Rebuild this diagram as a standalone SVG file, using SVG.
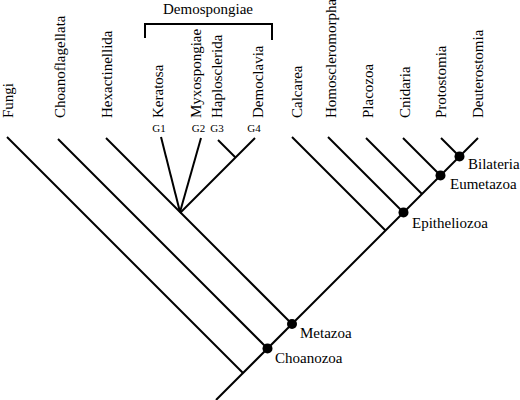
<svg xmlns="http://www.w3.org/2000/svg" width="520" height="400" viewBox="0 0 520 400">
<style>
.l{stroke:#000;stroke-width:2;fill:none}
.d{fill:#000}
</style>
<rect width="520" height="400" fill="#fff"/>
<g id="connectors">
<line class="l" x1="216" y1="400" x2="478" y2="138"/>
<line class="l" x1="7" y1="137" x2="243" y2="373"/>
<line class="l" x1="58" y1="139" x2="267.5" y2="348.5"/>
<line class="l" x1="106" y1="138" x2="292" y2="324"/>
<line class="l" x1="161" y1="137" x2="180" y2="212"/>
<line class="l" x1="201" y1="138" x2="180" y2="212"/>
<line class="l" x1="255" y1="138" x2="180" y2="213"/>
<line class="l" x1="218" y1="140" x2="235.5" y2="157.5"/>
<line class="l" x1="292" y1="137" x2="385.5" y2="230.5"/>
<line class="l" x1="328" y1="137" x2="403.5" y2="212.5"/>
<line class="l" x1="366" y1="138" x2="422" y2="194"/>
<line class="l" x1="403" y1="138" x2="440.5" y2="175.5"/>
<line class="l" x1="441" y1="138" x2="459.5" y2="156.5"/>
<polyline class="l" points="145,38 145,24 272,24 272,40"/>
</g>
<g id="n-choanozoa"><circle class="d" cx="267.5" cy="348.5" r="5"/><text x="275" y="363" font-size="15" font-family="Liberation Serif">Choanozoa</text></g>
<g id="n-metazoa"><circle class="d" cx="292" cy="324" r="5"/><text x="300" y="338" font-size="15" font-family="Liberation Serif">Metazoa</text></g>
<g id="n-epitheliozoa"><circle class="d" cx="403.5" cy="212.5" r="5"/><text x="412" y="228" font-size="15" font-family="Liberation Serif">Epitheliozoa</text></g>
<g id="n-eumetazoa"><circle class="d" cx="440.5" cy="175.5" r="5"/><text x="450" y="189" font-size="15" font-family="Liberation Serif">Eumetazoa</text></g>
<g id="n-bilateria"><circle class="d" cx="459.5" cy="156.5" r="5"/><text x="468" y="169" font-size="15" font-family="Liberation Serif">Bilateria</text></g>
<g id="demospongiae"><text x="208" y="14" text-anchor="middle" font-size="15" font-family="Liberation Serif">Demospongiae</text></g>
<g id="taxa">
<text transform="translate(13,118) rotate(-90)" font-size="15" font-family="Liberation Serif">Fungi</text>
<text transform="translate(65,118) rotate(-90)" font-size="15" font-family="Liberation Serif">Choanoflagellata</text>
<text transform="translate(112,118) rotate(-90)" font-size="15" font-family="Liberation Serif">Hexactinellida</text>
<text transform="translate(163,118) rotate(-90)" font-size="15" font-family="Liberation Serif">Keratosa</text>
<text transform="translate(201,118) rotate(-90)" font-size="15" font-family="Liberation Serif">Myxospongiae</text>
<text transform="translate(222,118) rotate(-90)" font-size="15" font-family="Liberation Serif">Haplosclerida</text>
<text transform="translate(263,118) rotate(-90)" font-size="15" font-family="Liberation Serif">Democlavia</text>
<text transform="translate(302,118) rotate(-90)" font-size="15" font-family="Liberation Serif">Calcarea</text>
<text transform="translate(336,118) rotate(-90)" font-size="15" font-family="Liberation Serif">Homoscleromorpha</text>
<text transform="translate(373,118) rotate(-90)" font-size="15" font-family="Liberation Serif">Placozoa</text>
<text transform="translate(410,118) rotate(-90)" font-size="15" font-family="Liberation Serif">Cnidaria</text>
<text transform="translate(446,118) rotate(-90)" font-size="15" font-family="Liberation Serif">Protostomia</text>
<text transform="translate(483,118) rotate(-90)" font-size="15" font-family="Liberation Serif">Deuterostomia</text>
</g>
<g id="groups">
<text x="159" y="132" text-anchor="middle" font-size="11" font-family="Liberation Serif">G1</text>
<text x="198.5" y="132" text-anchor="middle" font-size="11" font-family="Liberation Serif">G2</text>
<text x="217" y="132" text-anchor="middle" font-size="11" font-family="Liberation Serif">G3</text>
<text x="254" y="132" text-anchor="middle" font-size="11" font-family="Liberation Serif">G4</text>
</g>
</svg>
